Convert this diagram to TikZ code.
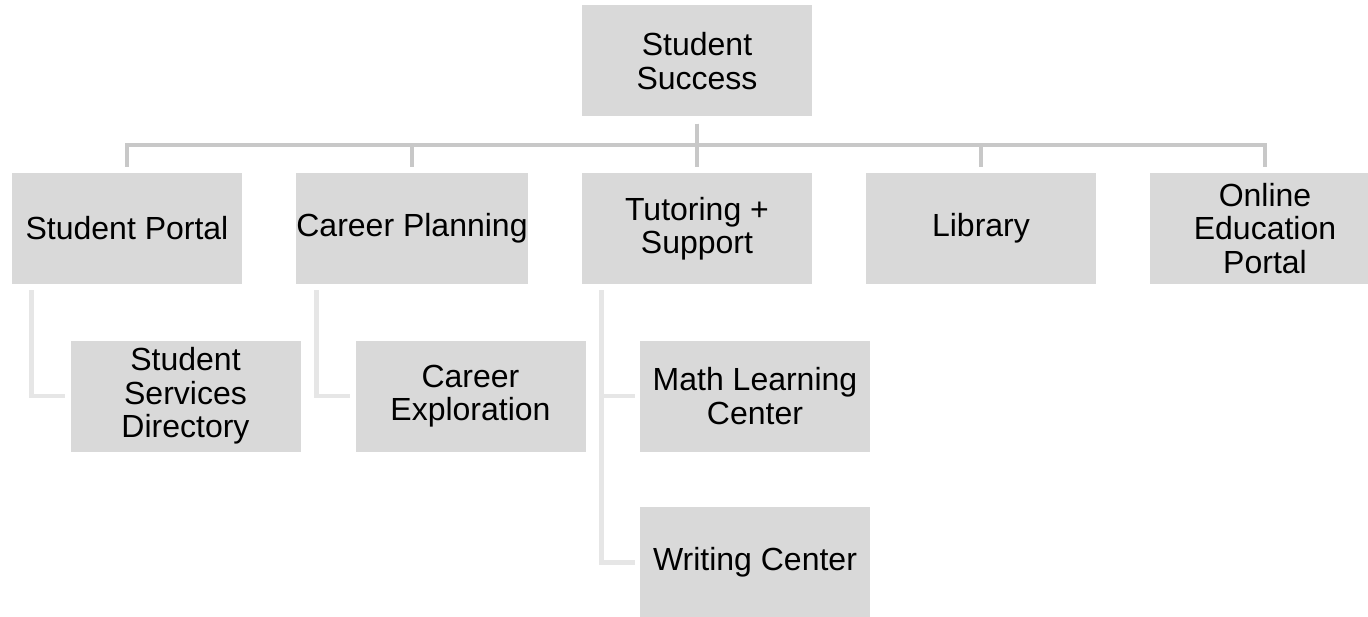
\documentclass[tikz,border=0pt]{standalone}
\usepackage{fontspec}
\setmainfont{Liberation Sans}
\usetikzlibrary{positioning, calc}

\definecolor{boxgray}{HTML}{D9D9D9}
\definecolor{busgray}{HTML}{C8C8C8}
\definecolor{branchgray}{HTML}{E6E6E6}

\tikzset{
    unit/.style={fill=boxgray, minimum width=172.5pt, minimum height=83.25pt,
        inner sep=0pt, align=center, font=\fontsize{24}{25}\selectfont},
    bus/.style={draw=busgray, line width=3.6pt, shorten <=5.25pt, shorten >=4.5pt},
    branch/.style={draw=branchgray, line width=3.6pt, shorten <=4.5pt, shorten >=3.75pt}
}

\begin{document}
\begin{tikzpicture}[x=0.75pt, y=-0.75pt]
            \useasboundingbox[fill=white] (0,0) rectangle (1368,617);
            \begin{scope}
            \clip (0,0) rectangle (1368,617);
            \node[unit] (top) at (697,61) {Student\\Success};
            \node[unit] (portal) at (127,228.5) {Student Portal};
            \node[unit] (career) at (412,228.5) {Career Planning};
            \node[unit] (tutor) at (697,228.5) {Tutoring +\\Support};
            \node[unit] (library) at (981,228.5) {Library};
            \node[unit] (online) at (1265,228.5) {Online\\Education\\Portal};
            \node[unit] (ssd) at (185.5,396) {Student\\Services\\Directory};
            \node[unit] (cexp) at (470.5,396) {Career\\Exploration};
            \node[unit] (math) at (755,396) {Math Learning\\Center};
            \node[unit] (writing) at (755,562.5) {Writing Center};
            \coordinate (busline) at (697,145);
            % top level connectors
            \foreach \n in {portal, career, tutor, library, online}{
                \draw[bus] (top.south) -- (top.south |- busline) -| (\n.north);
            }
            % second level connectors
            \foreach \p/\c in {portal/ssd, career/cexp, tutor/math, tutor/writing}{
                \draw[branch] ([xshift=15pt]\p.south west) |- (\c.west);
            }
            \end{scope}
        \end{tikzpicture}
\end{document}
